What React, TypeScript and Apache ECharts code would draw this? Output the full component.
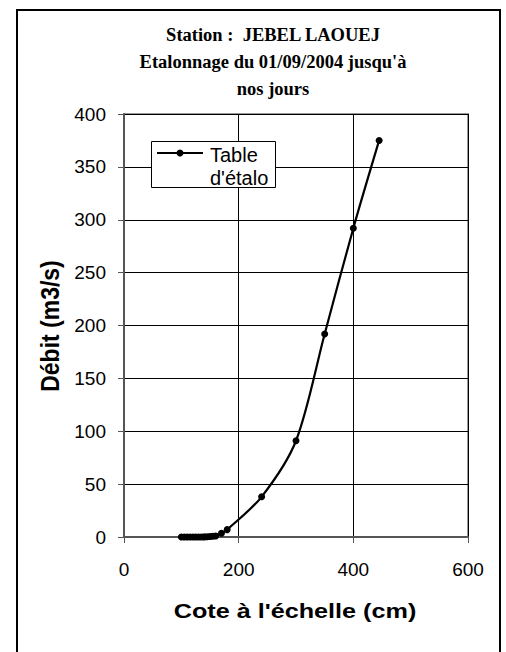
import React, { useEffect, useRef } from "react";
import * as echarts from "echarts";

const titleLines = ["Station :  JEBEL LAOUEJ", "Etalonnage du 01/09/2004 jusqu'à", "nos jours"];
const xName = "Cote à l'échelle (cm)";
const yName = "Débit (m3/s)";
const seriesName = "Table d'étalo";
const cote = [100, 105, 110, 115, 120, 125, 130, 135, 140, 145, 150, 155, 160, 170, 180, 240, 300, 350, 400, 445];
const debit = [0, 0, 0, 0, 0, 0, 0, 0, 0.1, 0.2, 0.4, 0.7, 1.0, 3.5, 7, 38, 91, 192, 292, 375];

export default function App() {
  const ref = useRef<HTMLDivElement>(null);
  useEffect(() => {
    const chart = echarts.init(ref.current!, null, { renderer: "svg" });
    const data = cote.map((c, i) => [c, debit[i]]);
    chart.setOption({
      animation: false,
      backgroundColor: "#fff",
      grid: {
        left: 124,
        right: 38,
        top: 114,
        bottom: 115,
        show: true,
        borderColor: "#999",
        borderWidth: 2,
        backgroundColor: "#fff",
      },
      xAxis: {
        type: "value",
        min: 0,
        max: 600,
        interval: 200,
        axisLine: { show: true, onZero: false, lineStyle: { color: "#555", width: 2 } },
        axisTick: { show: true, length: 6, lineStyle: { color: "#555", width: 1 } },
        axisLabel: { fontFamily: "Liberation Sans, Arial", fontSize: 19, color: "#000", margin: 23 },
        splitLine: { show: true, lineStyle: { color: "#000", width: 1 } },
      },
      yAxis: {
        type: "value",
        min: 0,
        max: 400,
        interval: 50,
        axisLine: { show: true, lineStyle: { color: "#555", width: 2 } },
        axisTick: { show: true, length: 6, lineStyle: { color: "#555", width: 1 } },
        axisLabel: { fontFamily: "Liberation Sans, Arial", fontSize: 19, color: "#000", margin: 18 },
        splitLine: { show: true, lineStyle: { color: "#000", width: 1 } },
      },
      series: [
        {
          name: seriesName,
          type: "line",
          data,
          smooth: 0.3,
          symbol: "circle",
          symbolSize: 7,
          showSymbol: true,
          itemStyle: { color: "#000" },
          lineStyle: { color: "#000", width: 2.2 },
        },
      ],
      graphic: [
        {
          type: "rect",
          shape: { x: 17, y: 10, width: 483, height: 660 },
          style: { fill: "none", stroke: "#000", lineWidth: 2 },
          z: 100,
        },
        {
          type: "text",
          x: 273,
          y: 21,
          style: {
            text: titleLines.join("\n"),
            fontFamily: "Liberation Serif, Times New Roman",
            fontWeight: "bold",
            fontSize: 18.5,
            lineHeight: 27,
            fill: "#000",
            align: "center",
            verticalAlign: "top",
          },
          z: 100,
        },
        {
          type: "text",
          x: 295,
          y: 611,
          scaleX: 1.2,
          style: {
            text: xName,
            fontFamily: "Liberation Sans, Arial",
            fontWeight: "bold",
            fontSize: 21,
            fill: "#000",
            align: "center",
            verticalAlign: "middle",
          },
          z: 100,
        },
        {
          type: "text",
          x: 50,
          y: 326,
          rotation: Math.PI / 2,
          scaleY: 1.12,
          style: {
            text: yName,
            fontFamily: "Liberation Sans, Arial",
            fontWeight: "bold",
            fontSize: 23,
            fill: "#000",
            align: "center",
            verticalAlign: "middle",
          },
          z: 100,
        },
        {
          type: "rect",
          shape: { x: 151.5, y: 141.5, width: 124, height: 46 },
          style: { fill: "#fff", stroke: "#000", lineWidth: 1 },
          z: 100,
        },
        {
          type: "line",
          shape: { x1: 157, y1: 153, x2: 203, y2: 153 },
          style: { stroke: "#000", lineWidth: 2 },
          z: 101,
        },
        {
          type: "circle",
          shape: { cx: 180, cy: 153, r: 3.5 },
          style: { fill: "#000" },
          z: 101,
        },
        {
          type: "text",
          x: 210,
          y: 143,
          style: {
            text: "Table\nd'étalo",
            fontFamily: "Liberation Sans, Arial",
            fontSize: 20,
            lineHeight: 23,
            fill: "#000",
            align: "left",
            verticalAlign: "top",
          },
          z: 101,
        },
      ],
    });
    return () => chart.dispose();
  }, []);
  return (
    <div
      ref={ref}
      style={{ position: "absolute", left: 0, top: 0, width: 506, height: 652 }}
    />
  );
}
